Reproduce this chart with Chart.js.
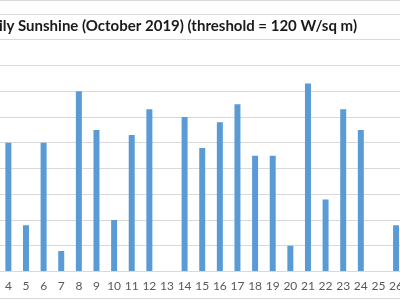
<!DOCTYPE html>
<html>
<head>
<meta charset="utf-8">
<script src="https://cdn.jsdelivr.net/npm/chart.js@4"></script>
<style>
  html, body { margin: 0; padding: 0; background: #fff; overflow: hidden; }
  #wrap { position: relative; width: 400px; height: 300px; overflow: hidden; }
  #sunChart { position: absolute; left: -2px; top: 0; }
  .edge { position: absolute; left: 0; width: 400px; height: 1px; background: #d9d9d9; }
</style>
</head>
<body>
<div id="wrap">
  <canvas id="sunChart" width="412" height="300"></canvas>
  <div class="edge" style="top:0"></div>
  <div class="edge" style="top:298px"></div>
</div>
<script>
// days of October 2019 visible in the picture
var days = ['4', '5', '6', '7', '8', '9', '10', '11', '12', '13', '14', '15', '16', '17', '18', '19', '20', '21', '22', '23', '24', '25', '26'];
// hours of sunshine above 120 W/sq m
var sunHours = [5.0, 1.8, 5.0, 0.8, 7.0, 5.5, 2.0, 5.3, 6.3, 0, 6.0, 4.8, 5.8, 6.5, 4.5, 4.5, 1.0, 7.3, 2.8, 6.3, 5.5, 0, 1.8];
var chartTitle = 'Daily Sunshine (October 2019) (threshold = 120 W/sq m)';

// the title sits inside the plot area in the original, so draw it on top
var overlayTitle = {
    id: 'overlayTitle',
    afterDraw: function (chart) {
        var ctx = chart.ctx;
        ctx.save();
        ctx.font = 'bold 15px Lato';
        ctx.fillStyle = '#1a1a1a';
        ctx.textAlign = 'right';
        ctx.textBaseline = 'middle';
        ctx.fillText(chartTitle, 359, 26);
        ctx.restore();
    }
};

var ctxSun = document.getElementById('sunChart').getContext('2d');
var sunChart = new Chart(ctxSun, {
    type: 'bar',
    data: {
        labels: days,
        datasets: [{
            label: 'Sunshine',
            data: sunHours,
            backgroundColor: '#5b9bd5',
            barPercentage: 0.34,
            categoryPercentage: 1
        }]
    },
    options: {
        responsive: false,
        animation: false,
        layout: { padding: { top: 14, bottom: 0, left: 0, right: 0 } },
        plugins: {
            legend: { display: false },
            title: { display: false },
            tooltip: { enabled: false }
        },
        scales: {
            x: {
                grid: { display: false, drawTicks: false },
                border: { display: true, color: '#d9d9d9' },
                ticks: {
                    color: '#595959',
                    padding: 7,
                    autoSkip: false,
                    maxRotation: 0,
                    minRotation: 0,
                    font: { family: 'Lato', size: 12 }
                }
            },
            y: {
                min: 0,
                max: 10,
                ticks: { display: false, stepSize: 1 },
                grid: { color: '#d9d9d9', drawTicks: false },
                border: { display: false }
            }
        }
    },
    plugins: [overlayTitle]
});
</script>
</body>
</html>
